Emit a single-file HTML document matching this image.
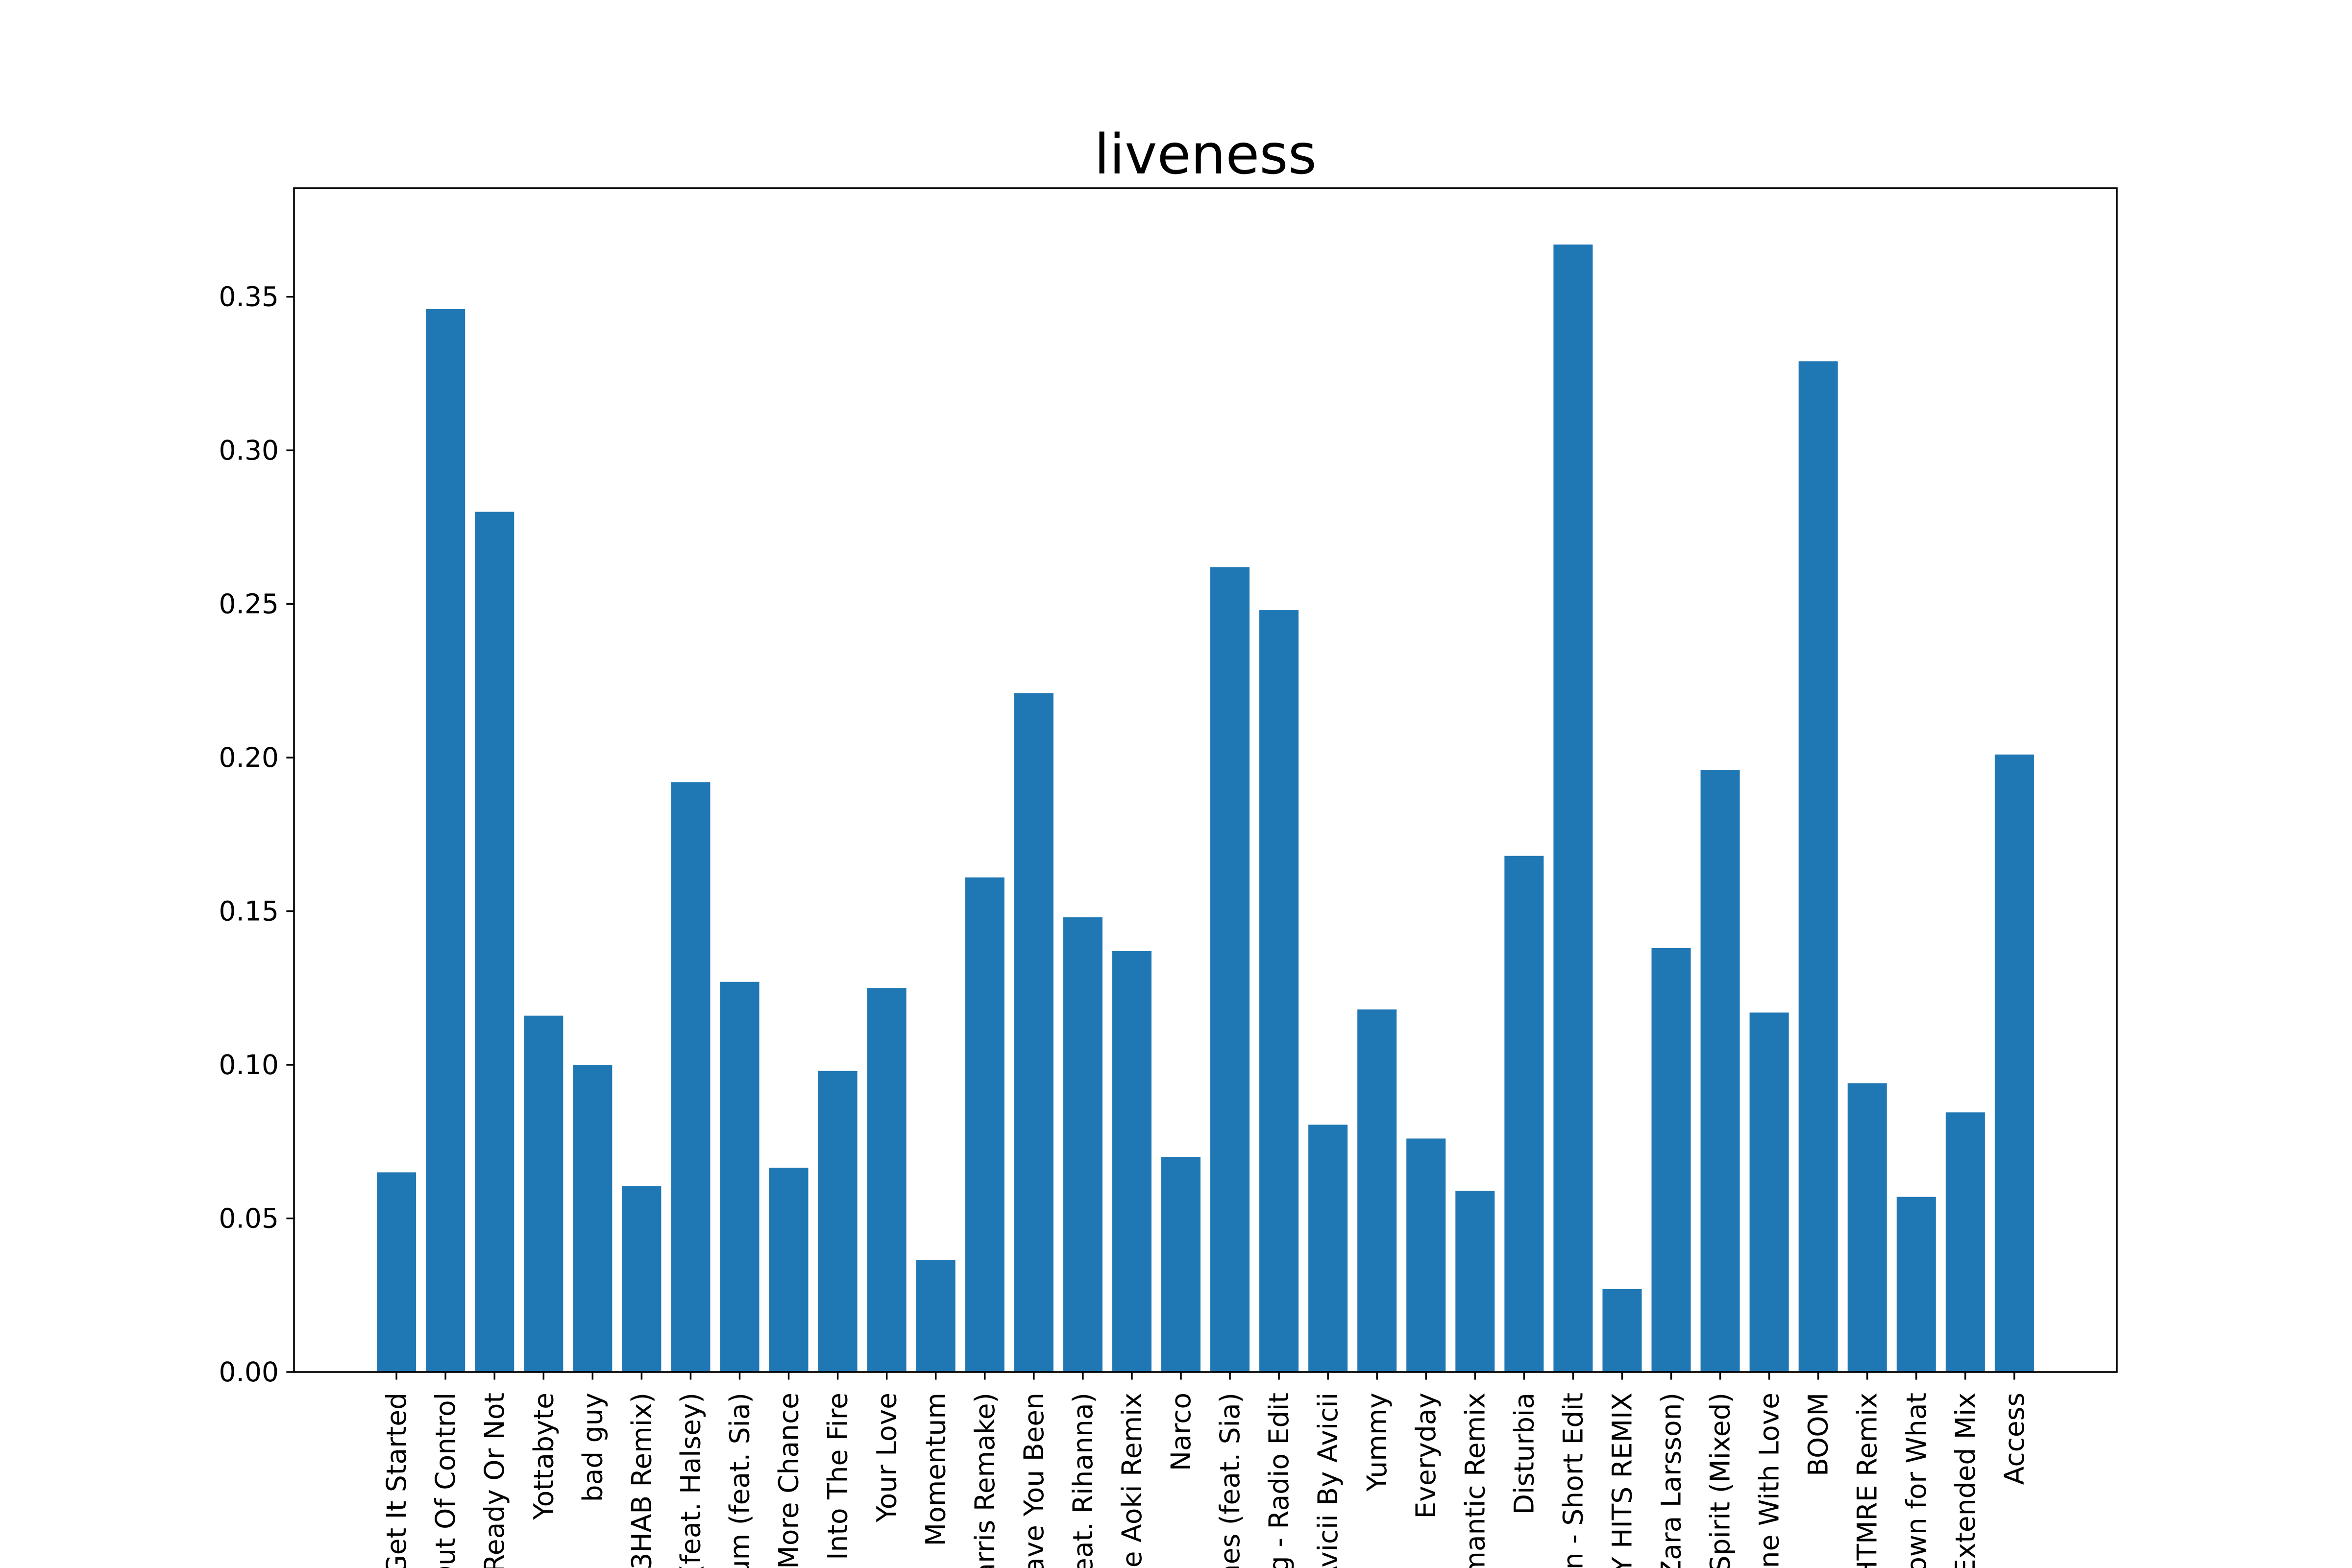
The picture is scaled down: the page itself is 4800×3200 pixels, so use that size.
<!DOCTYPE html>
<html><head><meta charset="utf-8"><style>
html,body{margin:0;padding:0;background:#fff;width:4800px;height:3200px;overflow:hidden;}
svg{display:block;font-family:"DejaVu Sans","Liberation Sans",sans-serif;}
</style></head><body>
<svg id="chart" width="4800" height="3200" viewBox="0 0 4800 3200" xmlns="http://www.w3.org/2000/svg" overflow="hidden">
<rect width="4800" height="3200" fill="#fff"/>
<text x="2460" y="354" font-size="112" text-anchor="middle" fill="#000">liveness</text>
<g id="bars"></g>
<g id="xticks"></g>
<g id="yticks"></g>
<rect x="600" y="384" width="3720" height="2416" fill="none" stroke="#000" stroke-width="3.5"/>
</svg>
<script>
const categories = ["Let's Get It Started","Out Of Control","Ready Or Not","Yottabyte","bad guy","Lullaby (R3HAB Remix)","Closer (feat. Halsey)","Titanium (feat. Sia)","One More Chance","Into The Fire","Your Love","Momentum","Blue (Calvin Harris Remake)","Where Have You Been","This Is What You Came For (feat. Rihanna)","Delirious - Steve Aoki Remix","Narco","Wild Ones (feat. Sia)","Summer Thing - Radio Edit","Levels - Avicii By Avicii","Yummy","Everyday","Unromantic Remix","Disturbia","Rain - Short Edit","Party - PARTY HITS REMIX","Symphony (feat. Zara Larsson)","Spirit (Mixed)","Gone With Love","BOOM","Lose It - NGHTMRE Remix","Turn Down for What","Animals - Extended Mix","Access"];
const liveness = [0.065,0.346,0.280,0.116,0.100,0.0605,0.192,0.127,0.0665,0.098,0.125,0.0365,0.161,0.221,0.148,0.137,0.070,0.262,0.248,0.0805,0.118,0.076,0.059,0.168,0.367,0.027,0.138,0.196,0.117,0.329,0.094,0.057,0.0845,0.201];
const yTickValues = [0,0.05,0.10,0.15,0.20,0.25,0.30,0.35];
const yTickLabels = ["0.00","0.05","0.10","0.15","0.20","0.25","0.30","0.35"];

const NS = "http://www.w3.org/2000/svg";
const L=600,R=4320,T=384,B=2800;
const n = categories.length;
const xmin = -0.4 - 0.05*(n-1+0.8), xmax = n-1+0.4 + 0.05*(n-1+0.8);
const ymax = Math.max(...liveness)*1.05;
function xs(v){return L+(v-xmin)/(xmax-xmin)*(R-L);}
function ys(v){return B-v/ymax*(B-T);}
const gb=document.getElementById('bars'), gx=document.getElementById('xticks'), gy=document.getElementById('yticks');
function mk(tag,attrs){const e=document.createElementNS(NS,tag);for(const k in attrs)e.setAttribute(k,attrs[k]);return e;}
liveness.forEach((v,i)=>{
  const r=mk('rect',{x:xs(i-0.4),y:ys(v),width:xs(i+0.4)-xs(i-0.4),height:ys(0)-ys(v),fill:'#1f77b4'});
  
  
  gb.appendChild(r);
  const t=mk('line',{x1:xs(i),x2:xs(i),y1:B,y2:B+15.6,stroke:'#000','stroke-width':3.5});
  
  
  gx.appendChild(t);
  const lb=mk('text',{transform:'translate('+xs(i)+','+(B+42)+') rotate(-90)','text-anchor':'end','dominant-baseline':'central','font-size':55,fill:'#000'});
  lb.textContent=categories[i];
  
  
  gx.appendChild(lb);
});
yTickValues.forEach((v,i)=>{
  const t=mk('line',{x1:L-15.6,x2:L,y1:ys(v),y2:ys(v),stroke:'#000','stroke-width':3.5});
  
  
  gy.appendChild(t);
  const lb=mk('text',{x:L-31,y:ys(v),'text-anchor':'end','dominant-baseline':'central','font-size':55,fill:'#000'});
  lb.textContent=yTickLabels[i];
  
  
  gy.appendChild(lb);
});
</script>
</body></html>
